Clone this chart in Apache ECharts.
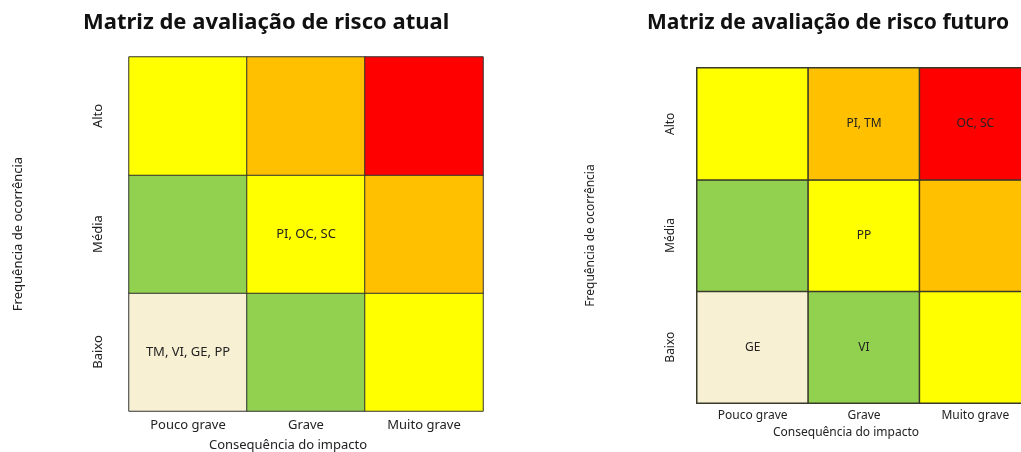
<!DOCTYPE html>
<html lang="pt">
<head>
<meta charset="UTF-8">
<title>Matriz de avaliação de risco</title>
<script src="https://cdn.jsdelivr.net/npm/echarts@6/dist/echarts.min.js"></script>
</head>
<body style="margin:0">
<div id="main" style="width:1021px;height:452px"></div>
<script>
// eixos
var consequencias = ['Pouco grave', 'Grave', 'Muito grave'];
var frequencias = ['Baixo', 'Média', 'Alto'];
// nível de risco por célula (linhas de baixo para cima: Baixo, Média, Alto)
var niveis = [
    [0, 1, 2],
    [1, 2, 3],
    [2, 3, 4]
];
// riscos em cada célula
var riscosAtual = [
    ['TM, VI, GE, PP', '', ''],
    ['', 'PI, OC, SC', ''],
    ['', '', '']
];
var riscosFuturo = [
    ['GE', 'VI', ''],
    ['', 'PP', ''],
    ['', 'PI, TM', 'OC, SC']
];
var cores = ['#F7F0D3', '#92D050', '#FFFF00', '#FFC000', '#FF0000'];

function montaDados() {
    var d = [];
    for (var y = 0; y < frequencias.length; y++) {
        for (var x = 0; x < consequencias.length; x++) {
            d.push([x, y, niveis[y][x]]);
        }
    }
    return d;
}

var fonte = '"Noto Sans", sans-serif';

function eixoX(grid, fs, margin, gap) {
    return {
        type: 'category', gridIndex: grid, data: consequencias,
        axisLine: {show: false}, axisTick: {show: false}, splitLine: {show: false},
        axisLabel: {color: '#222', fontSize: fs, margin: margin, fontFamily: fonte},
        name: 'Consequência do impacto', nameLocation: 'middle', nameGap: gap,
        nameTextStyle: {color: '#222', fontSize: fs, fontFamily: fonte, padding: [0, 36, 0, 0]}
    };
}
function eixoY(grid, fs, margin, gap) {
    return {
        type: 'category', gridIndex: grid, data: frequencias,
        axisLine: {show: false}, axisTick: {show: false}, splitLine: {show: false},
        axisLabel: {color: '#222', fontSize: fs, margin: margin, rotate: 90, fontFamily: fonte},
        name: 'Frequência de ocorrência', nameLocation: 'middle', nameGap: gap,
        nameTextStyle: {color: '#222', fontSize: fs, fontFamily: fonte}
    };
}
function serie(idx, riscos, fs, bw, bc) {
    return {
        type: 'heatmap', xAxisIndex: idx, yAxisIndex: idx, data: montaDados(),
        itemStyle: {borderColor: bc, borderWidth: bw},
        label: {
            show: true, color: '#222', fontSize: fs, fontFamily: fonte,
            formatter: function (p) { return riscos[p.value[1]][p.value[0]]; }
        },
        emphasis: {disabled: true}
    };
}

var myChart = echarts.init(document.getElementById('main'));
var option = {
    animation: false,
    title: [
        {text: 'Matriz de avaliação de risco atual', left: 78, top: 7,
         textStyle: {fontSize: 22, fontWeight: 'bold', color: '#111', fontFamily: fonte}},
        {text: 'Matriz de avaliação de risco futuro', left: 642, top: 8,
         textStyle: {fontSize: 21, fontWeight: 'bold', color: '#111', fontFamily: fonte}}
    ],
    visualMap: {
        type: 'piecewise', show: false, dimension: 2, seriesIndex: [0, 1],
        pieces: cores.map(function (c, i) { return {value: i, color: c}; })
    },
    grid: [
        {left: 129, top: 57, width: 354, height: 354, outerBoundsMode: 'none'},
        {left: 697, top: 68, width: 334, height: 335, outerBoundsMode: 'none'}
    ],
    xAxis: [eixoX(0, 13, 8, 28), eixoX(1, 12, 7, 24)],
    yAxis: [eixoY(0, 13, 24, 104), eixoY(1, 12, 20, 100)],
    series: [
        serie(0, riscosAtual, 13, 1, '#333'),
        serie(1, riscosFuturo, 12, 1.5, '#3a3a2a')
    ]
};
myChart.setOption(option);
</script>
</body>
</html>
